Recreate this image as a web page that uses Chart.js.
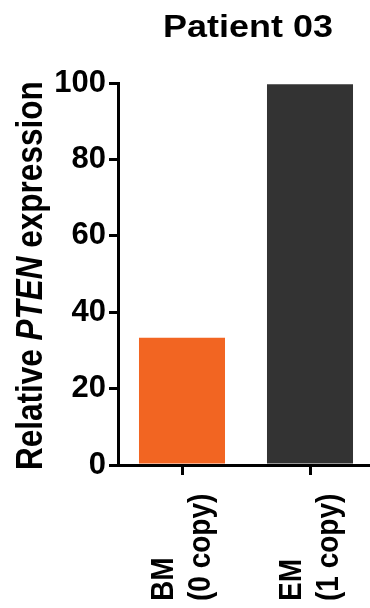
<!DOCTYPE html>
<html>
<head>
<meta charset="utf-8">
<title>Patient 03</title>
<script src="https://cdn.jsdelivr.net/npm/chart.js@4"></script>
<style>
    html, body { margin: 0; padding: 0; background: #ffffff; overflow: hidden; }
    /* a few px wider than the window so the x axis runs off the right edge */
    #wrap { position: relative; width: 374px; height: 608px; }
</style>
</head>
<body>
<div id="wrap"><canvas id="chart"></canvas></div>
<script>
// --------------------------------- Chart Data ---------------------------------
const chartTitle = "Patient 03";
const categories = ["BM", "EM"];
const categorySubLabels = ["(0 copy)", "(1 copy)"];
const expressionValues = [33.3, 99.7];
const barColors = ["#F26522", "#333333"];
const yTicks = [0, 20, 40, 60, 80, 100];

const FONT = "'Liberation Sans', Arial, Helvetica, sans-serif";

// Draws the title, the rotated x labels and the mixed style y title.
// The source figure's text is a little wider than it is tall, so each
// piece is stretched slightly across.
const textPlugin = {
    id: "textPlugin",
    afterDraw(chart) {
        const ctx = chart.ctx;
        const area = chart.chartArea;
        const xScale = chart.scales.x;
        ctx.save();
        ctx.fillStyle = "#000000";

        // Title centered over the plot area
        ctx.save();
        ctx.translate(248, 37);
        ctx.scale(1.16, 1);
        ctx.font = "bold 31px " + FONT;
        ctx.textAlign = "center";
        ctx.textBaseline = "alphabetic";
        ctx.fillText(chartTitle, 0, 0);
        ctx.restore();

        // Category labels, rotated and reading bottom to top
        ctx.font = "bold 28px " + FONT;
        ctx.textAlign = "left";
        ctx.textBaseline = "alphabetic";
        categories.forEach((name, i) => {
            const x = xScale.getPixelForValue(i);
            ctx.save();
            ctx.translate(x, 601);
            ctx.rotate(-Math.PI / 2);
            ctx.scale(1, 1.1);
            ctx.fillText(name, 0, -8.2);
            ctx.fillText(categorySubLabels[i], 0, 25.5);
            ctx.restore();
        });

        // Y axis title: "Relative PTEN expression" with PTEN in italics
        const parts = [
            { text: "Relative ", font: "bold 31.5px " + FONT },
            { text: "PTEN", font: "italic bold 31.5px " + FONT },
            { text: " expression", font: "bold 31.5px " + FONT },
        ];
        ctx.save();
        ctx.translate(42, 470);
        ctx.rotate(-Math.PI / 2);
        ctx.scale(1, 1.2);
        let pos = 0;
        parts.forEach((p) => {
            ctx.font = p.font;
            ctx.fillText(p.text, pos, 0);
            pos += ctx.measureText(p.text).width;
        });
        ctx.restore();

        ctx.restore();
    },
};

const chart = new Chart("chart", {
    type: "bar",
    data: {
        labels: categories,
        datasets: [
            {
                data: expressionValues,
                backgroundColor: barColors,
                borderWidth: 0,
                barPercentage: 0.672,
                categoryPercentage: 1.0,
            },
        ],
    },
    options: {
        responsive: true,
        maintainAspectRatio: false,
        animation: false,
        layout: { padding: { top: 83, right: 0, left: 0, bottom: 0 } },
        plugins: {
            legend: { display: false },
            title: { display: false },
            tooltip: { enabled: false },
        },
        scales: {
            x: {
                offset: true,
                grid: {
                    offset: false,
                    drawOnChartArea: false,
                    drawTicks: true,
                    tickLength: 10,
                    lineWidth: 3,
                    color: "#000000",
                },
                border: { display: true, width: 3, color: "#000000" },
                ticks: { display: false },
                afterFit: (scale) => {
                    scale.height = 143;
                },
            },
            y: {
                min: 0,
                max: 100,
                afterBuildTicks: (scale) => {
                    scale.ticks = yTicks.map((v) => ({ value: v }));
                },
                grid: {
                    drawOnChartArea: false,
                    drawTicks: true,
                    tickLength: 9,
                    lineWidth: 3,
                    color: "#000000",
                },
                border: { display: true, width: 3, color: "#000000" },
                ticks: {
                    color: "#000000",
                    padding: 3,
                    font: { family: FONT, size: 31, weight: "bold" },
                },
                afterFit: (scale) => {
                    scale.width = 118;
                },
            },
        },
    },
    plugins: [textPlugin],
});
</script>
</body>
</html>
